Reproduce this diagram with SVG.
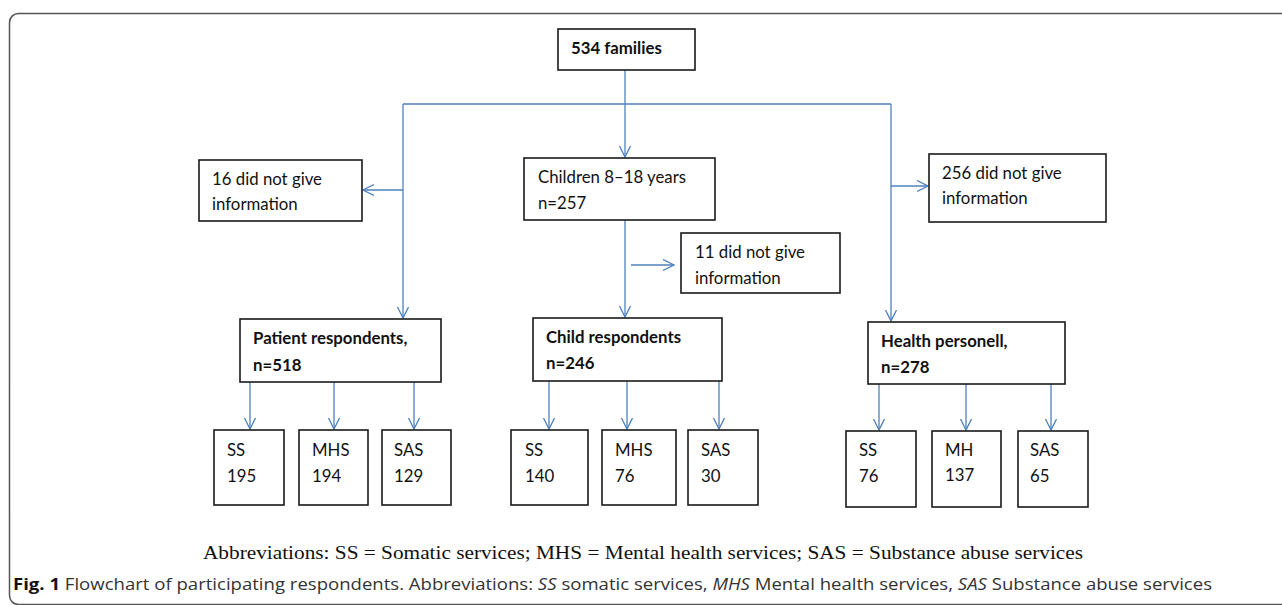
<svg xmlns="http://www.w3.org/2000/svg" width="1282" height="605" viewBox="0 0 1282 605">
<defs>
<marker id="arr" markerUnits="userSpaceOnUse" markerWidth="14" markerHeight="14" refX="11" refY="6" orient="auto">
<path d="M0,0.5 L11,6 L0,11.5" fill="none" stroke="#4f81bd" stroke-width="1.3"/>
</marker>
<style>
.box{fill:#fff;stroke:#1a1a1a;stroke-width:1.6}
.t{font-family:Lato,"Open Sans",sans-serif;font-size:16.8px;fill:#111}
.b{font-weight:bold}
.c{fill:none;stroke:#4f81bd;stroke-width:1.3}
.a{marker-end:url(#arr)}
</style>
</defs>
<rect x="9.5" y="13.5" width="1300" height="591" rx="9" fill="none" stroke="#555" stroke-width="1.5"/>

<g id="connectors">
<path class="c a" d="M625,70 V157"/>
<path class="c" d="M403,104 H891"/>
<path class="c a" d="M403,104 V318"/>
<path class="c a" d="M403,190 H363"/>
<path class="c a" d="M891,104 V321"/>
<path class="c a" d="M891,186 H928"/>
<path class="c a" d="M625,220 V317"/>
<path class="c a" d="M631,265 H674"/>
<path class="c a" d="M250,382 V429"/>
<path class="c a" d="M334,382 V429"/>
<path class="c a" d="M414,382 V429"/>
<path class="c a" d="M549,381 V429"/>
<path class="c a" d="M627,381 V429"/>
<path class="c a" d="M719,381 V429"/>
<path class="c a" d="M879,384 V430"/>
<path class="c a" d="M966,384 V430"/>
<path class="c a" d="M1051,384 V430"/>
</g>

<g id="n534"><rect class="box" x="558" y="29" width="137" height="41"/><text class="t b" x="571" y="54">534 families</text></g>
<g id="n16"><rect class="box" x="199" y="160" width="163" height="61"/><text class="t" x="212" y="185">16 did not give</text><text class="t" x="212" y="210">information</text></g>
<g id="nchildren"><rect class="box" x="524" y="158" width="191" height="62"/><text class="t" x="538" y="183">Children 8–18 years</text><text class="t" x="538" y="209">n=257</text></g>
<g id="n256"><rect class="box" x="929" y="154" width="177" height="68"/><text class="t" x="942" y="179">256 did not give</text><text class="t" x="942" y="204">information</text></g>
<g id="n11"><rect class="box" x="681" y="233" width="159" height="60"/><text class="t" x="695" y="258">11 did not give</text><text class="t" x="695" y="284">information</text></g>

<g id="npatient"><rect class="box" x="240" y="319" width="201" height="63"/><text class="t b" x="253" y="344">Patient respondents,</text><text class="t b" x="253" y="371">n=518</text></g>
<g id="nchild"><rect class="box" x="533" y="318" width="189" height="63"/><text class="t b" x="546" y="343">Child respondents</text><text class="t b" x="546" y="369">n=246</text></g>
<g id="nhealth"><rect class="box" x="868" y="322" width="197" height="62"/><text class="t b" x="881" y="347">Health personell,</text><text class="t b" x="881" y="373">n=278</text></g>

<g id="pss"><rect class="box" x="214" y="430" width="70" height="75"/><text class="t" x="227" y="456">SS</text><text class="t" x="227" y="482">195</text></g>
<g id="pmhs"><rect class="box" x="299" y="430" width="69" height="75"/><text class="t" x="312" y="456">MHS</text><text class="t" x="312" y="482">194</text></g>
<g id="psas"><rect class="box" x="382" y="430" width="69" height="75"/><text class="t" x="394" y="456">SAS</text><text class="t" x="394" y="482">129</text></g>

<g id="css"><rect class="box" x="511" y="430" width="77" height="75"/><text class="t" x="525" y="456">SS</text><text class="t" x="525" y="482">140</text></g>
<g id="cmhs"><rect class="box" x="602" y="430" width="74" height="75"/><text class="t" x="615" y="456">MHS</text><text class="t" x="615" y="482">76</text></g>
<g id="csas"><rect class="box" x="688" y="430" width="70" height="75"/><text class="t" x="701" y="456">SAS</text><text class="t" x="701" y="482">30</text></g>

<g id="hss"><rect class="box" x="846" y="431" width="70" height="76"/><text class="t" x="859" y="456">SS</text><text class="t" x="859" y="482">76</text></g>
<g id="hmh"><rect class="box" x="932" y="431" width="69" height="76"/><text class="t" x="945" y="456">MH</text><text class="t" x="945" y="481">137</text></g>
<g id="hsas"><rect class="box" x="1018" y="431" width="70" height="76"/><text class="t" x="1030" y="456">SAS</text><text class="t" x="1030" y="482">65</text></g>

<text x="643" y="559" text-anchor="middle" font-family="'Liberation Serif',serif" font-size="19" fill="#111" textLength="880" lengthAdjust="spacingAndGlyphs">Abbreviations: SS = Somatic services; MHS = Mental health services; SAS = Substance abuse services</text>
<text x="13" y="590" font-family="'Open Sans',Lato,sans-serif" font-size="16.5" fill="#333" textLength="1199" lengthAdjust="spacingAndGlyphs"><tspan font-weight="bold" fill="#111">Fig. 1</tspan>  Flowchart of participating respondents. Abbreviations: <tspan font-style="italic">SS</tspan> somatic services, <tspan font-style="italic">MHS</tspan> Mental health services, <tspan font-style="italic">SAS</tspan> Substance abuse services</text>
</svg>
